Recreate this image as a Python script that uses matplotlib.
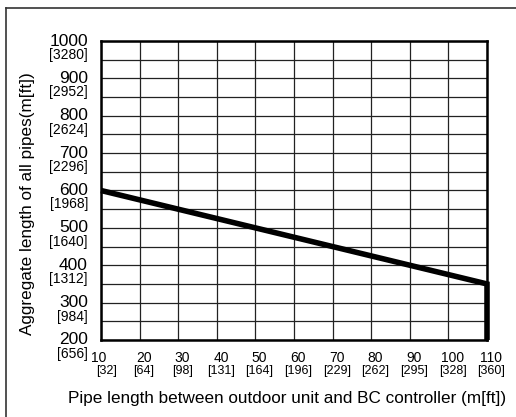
import matplotlib
matplotlib.use("Agg")
import matplotlib.pyplot as plt
from matplotlib.lines import Line2D

plt.rcParams["font.family"] = ["Liberation Sans", "DejaVu Sans"]

# pipe length between outdoor unit and BC controller (m)
pipe_len = [10, 110, 110]
# aggregate length of all pipes (m)
total_len = [600, 350, 200]

x_ticks = [10, 20, 30, 40, 50, 60, 70, 80, 90, 100, 110]
x_ft = ["[32]", "[64]", "[98]", "[131]", "[164]", "[196]", "[229]", "[262]", "[295]", "[328]", "[360]"]
y_ticks = [200, 300, 400, 500, 600, 700, 800, 900, 1000]
y_ft = ["[656]", "[984]", "[1312]", "[1640]", "[1968]", "[2296]", "[2624]", "[2952]", "[3280]"]

W, H = 516, 417
fig = plt.figure(figsize=(W / 100, H / 100), dpi=100)
ax = fig.add_axes([101 / W, 1 - 340 / H, (487 - 101) / W, (340 - 41) / H])

ax.set_xlim(10, 110)
ax.set_ylim(200, 1000)

# grid every 10 m across, every 50 m up
for x in range(10, 111, 10):
    ax.axvline(x, color="#222222", lw=0.9, zorder=1)
for y in range(200, 1001, 50):
    ax.axhline(y, color="#222222", lw=0.9, zorder=1)

ax.plot(pipe_len, total_len, color="black", lw=4, solid_capstyle="butt",
        solid_joinstyle="miter", zorder=3, clip_on=False)

for s in ax.spines.values():
    s.set_linewidth(1.8)
ax.set_xticks([])
ax.set_yticks([])

# y tick labels: metres on top, feet in brackets below
for y, ft in zip(y_ticks, y_ft):
    ax.annotate(str(y), (10, y), xytext=(-9.4, 0), textcoords="offset points",
                ha="right", va="center", fontsize=12.5)
    ax.annotate(ft, (10, y), xytext=(-9.4, -10), textcoords="offset points",
                ha="right", va="center", fontsize=10)

for x, ft in zip(x_ticks, x_ft):
    dx = -2 if x == 10 else 3
    ax.annotate(str(x), (x, 200), xytext=(dx, -13), textcoords="offset points",
                ha="center", va="center", fontsize=10)
    ax.annotate(ft, (x, 200), xytext=(dx + (6 if x == 10 else 0), -22.3),
                textcoords="offset points", ha="center", va="center", fontsize=9)

fig.text(287 / W, 1 - 399 / H, "Pipe length between outdoor unit and BC controller (m[ft])",
         ha="center", va="center", fontsize=12.3)
fig.text(28 / W, 1 - 204 / H, "Aggregate length of all pipes(m[ft])",
         ha="center", va="center", rotation=90, fontsize=12.3)

# outer frame (left and top edges visible)
fig.add_artist(Line2D([6 / W, 6 / W], [0, 1 - 7.5 / H], color="#333333", lw=1.2))
fig.add_artist(Line2D([6 / W, 1], [1 - 7.5 / H, 1 - 7.5 / H], color="#333333", lw=1.2))

fig.savefig("out.png", dpi=100)
